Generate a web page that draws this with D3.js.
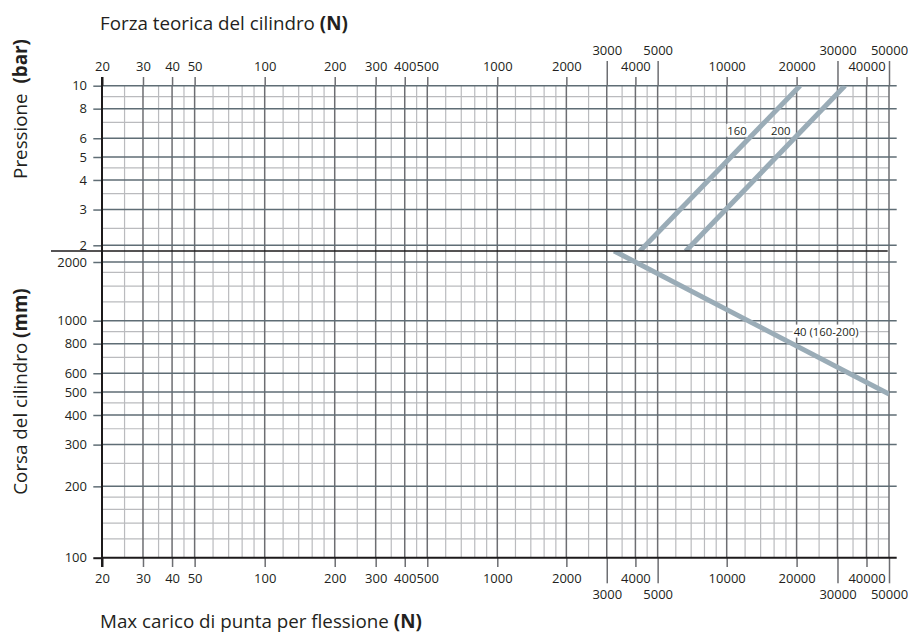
<!DOCTYPE html>
<html>
<head>
<meta charset="utf-8">
<script src="https://cdn.jsdelivr.net/npm/d3@7"></script>
<style>
  body { margin: 0; background: #fff; }
  text { font-family: "Open Sans", sans-serif; fill: #231f20; }
</style>
</head>
<body>
<div id="grafico"></div>
<script>
// asse x: forza (N), stessa scala sopra e sotto
const forza_maggiori = [20, 30, 40, 50, 100, 200, 300, 400, 500, 1000, 2000, 3000, 4000, 5000, 10000, 20000, 30000, 40000, 50000];
const forza_sfalsate = [3000, 5000, 30000, 50000];
const forza_minori = [25, 35, 45, 60, 70, 80, 90, 120, 140, 160, 180, 250, 350, 450, 600, 700, 800, 900,
  1200, 1400, 1600, 1800, 2500, 3500, 4500, 6000, 7000, 8000, 9000, 12000, 14000, 16000, 18000, 25000, 35000, 45000];

// pannello alto: pressione (bar)
const pressione_maggiori = [2, 3, 4, 5, 6, 8, 10];
const pressione_minori = [2.5, 3.5, 4.5, 7, 9];

// pannello basso: corsa (mm)
const corsa_maggiori = [100, 200, 300, 400, 500, 600, 800, 1000, 2000];
const corsa_minori = [120, 140, 160, 180, 250, 350, 450, 700, 900, 1200, 1400, 1600];

// curve: [forza N, pressione bar]
const alesaggio_160 = [[4180, 1.85], [20700, 10]];
const alesaggio_200 = [[6620, 1.85], [32300, 10]];
// [forza N, corsa mm]
const stelo_40 = [[3230, 2540], [50000, 490]];

const etichette_pressione = [["160", 11080, 6.46], ["200", 17100, 6.46]];
const etichette_corsa = [["40 (160-200)", 26800, 900]];

const larghezza = 908, altezza = 632;
const bordo = { sinistra: 102, destra: 889, alto: 85.7, separa: 251, basso: 557.7 };

const svg = d3.select("#grafico").append("svg")
  .attr("width", larghezza)
  .attr("height", altezza);

const x = d3.scaleLog()
  .domain([20, 100, 1000, 10000, 50000])
  .range([bordo.sinistra, 264.7, 497.3, 726.7, bordo.destra]);

const y_pressione = d3.scaleLog()
  .domain([2, 2.5, 10])
  .range([245.3, 228.3, bordo.alto]);

const y_corsa = d3.scaleLog()
  .domain([100, 1600, 2000])
  .range([bordo.basso, 272.3, 262]);

const grigio_chiaro = "#babbbe", grigio_v = "#6d6e72", grigio_h = "#5f6d75", nero = "#1c1a1b";

// griglia minore
const griglia = svg.append("g");
griglia.selectAll(".vmin").data(forza_minori).join("line")
  .attr("x1", d => x(d)).attr("x2", d => x(d))
  .attr("y1", bordo.alto).attr("y2", bordo.basso)
  .attr("stroke", grigio_chiaro).attr("stroke-width", 1.2);
griglia.selectAll(".hpmin").data(pressione_minori).join("line")
  .attr("x1", bordo.sinistra).attr("x2", bordo.destra)
  .attr("y1", d => y_pressione(d)).attr("y2", d => y_pressione(d))
  .attr("stroke", grigio_chiaro).attr("stroke-width", 1.2);
griglia.selectAll(".hcmin").data(corsa_minori).join("line")
  .attr("x1", bordo.sinistra).attr("x2", bordo.destra)
  .attr("y1", d => y_corsa(d)).attr("y2", d => y_corsa(d))
  .attr("stroke", grigio_chiaro).attr("stroke-width", 1.2);

// griglia maggiore
griglia.append("g").selectAll("line").data(forza_maggiori.slice(1)).join("line")
  .attr("x1", d => x(d)).attr("x2", d => x(d))
  .attr("y1", bordo.alto).attr("y2", bordo.basso)
  .attr("stroke", grigio_v).attr("stroke-width", 1.5);
griglia.append("g").selectAll("line").data(pressione_maggiori).join("line")
  .attr("x1", bordo.sinistra).attr("x2", 896.7)
  .attr("y1", d => y_pressione(d)).attr("y2", d => y_pressione(d))
  .attr("stroke", grigio_h).attr("stroke-width", 1.5);
griglia.append("g").selectAll("line").data(corsa_maggiori.filter(d => d > 100)).join("line")
  .attr("x1", bordo.sinistra).attr("x2", 896.7)
  .attr("y1", d => y_corsa(d)).attr("y2", d => y_corsa(d))
  .attr("stroke", grigio_h).attr("stroke-width", 1.5);

// assi
function stile(g, colore) {
  g.select(".domain").remove();
  g.selectAll(".tick line").attr("stroke", colore).attr("stroke-width", 1.5);
  g.selectAll(".tick text").style("font-size", "13px").attr("fill", "#231f20");
  g.selectAll(".tick").filter(d => d === 20 || d === 100 && g.classed("basso-y"))
    .select("line").attr("stroke", nero).attr("stroke-width", 2);
}
const formato = d3.format("d");
const normali = forza_maggiori.filter(d => !forza_sfalsate.includes(d));

svg.append("g").attr("transform", `translate(0,${bordo.alto})`)
  .call(d3.axisTop(x).tickValues(normali).tickFormat(formato).tickSize(8.7).tickPadding(6.4))
  .call(g => stile(g, grigio_v));
svg.append("g").attr("transform", `translate(0,${bordo.alto})`)
  .call(d3.axisTop(x).tickValues(forza_sfalsate).tickFormat(formato).tickSize(24.7).tickPadding(6.3))
  .call(g => stile(g, grigio_v));
svg.append("g").attr("transform", `translate(0,${bordo.basso})`)
  .call(d3.axisBottom(x).tickValues(normali).tickFormat(formato).tickSize(9.3).tickPadding(6.3))
  .call(g => stile(g, grigio_v));
svg.append("g").attr("transform", `translate(0,${bordo.basso})`)
  .call(d3.axisBottom(x).tickValues(forza_sfalsate).tickFormat(formato).tickSize(25.6).tickPadding(6.8))
  .call(g => stile(g, grigio_v));

svg.append("g").attr("transform", `translate(${bordo.sinistra},0)`)
  .call(d3.axisLeft(y_pressione).tickValues(pressione_maggiori).tickFormat(formato).tickSize(8.7).tickPadding(6.3))
  .call(g => stile(g, grigio_h));
svg.append("g").attr("class", "basso-y").attr("transform", `translate(${bordo.sinistra},0)`)
  .call(d3.axisLeft(y_corsa).tickValues(corsa_maggiori).tickFormat(formato).tickSize(8.7).tickPadding(6.3))
  .call(g => stile(g, grigio_h));

// linee nere di bordo
svg.append("line")
  .attr("x1", x(20)).attr("x2", x(20)).attr("y1", 77).attr("y2", 567)
  .attr("stroke", nero).attr("stroke-width", 2);
svg.append("line")
  .attr("x1", bordo.sinistra).attr("x2", 896.7).attr("y1", y_corsa(100)).attr("y2", y_corsa(100))
  .attr("stroke", nero).attr("stroke-width", 2);

// curve
const defs = svg.append("defs");
defs.append("clipPath").attr("id", "clip-alto").append("rect")
  .attr("x", bordo.sinistra).attr("y", bordo.alto)
  .attr("width", bordo.destra - bordo.sinistra).attr("height", bordo.separa - bordo.alto);
defs.append("clipPath").attr("id", "clip-basso").append("rect")
  .attr("x", bordo.sinistra).attr("y", bordo.separa)
  .attr("width", bordo.destra - bordo.sinistra).attr("height", bordo.basso - bordo.separa);

const linea_p = d3.line().x(d => x(d[0])).y(d => y_pressione(d[1]));
const linea_c = d3.line().x(d => x(d[0])).y(d => y_corsa(d[1]));
const blu = "#9aacb7";

svg.append("g").attr("clip-path", "url(#clip-alto)")
  .selectAll("path").data([alesaggio_160, alesaggio_200]).join("path")
  .attr("d", linea_p).attr("fill", "none").attr("stroke", blu).attr("stroke-width", 5);
svg.append("g").attr("clip-path", "url(#clip-basso)")
  .append("path").datum(stelo_40)
  .attr("d", linea_c).attr("fill", "none").attr("stroke", blu).attr("stroke-width", 5);

// separatore tra i due pannelli
svg.append("line")
  .attr("x1", 51).attr("x2", 887.7).attr("y1", bordo.separa).attr("y2", bordo.separa)
  .attr("stroke", nero).attr("stroke-width", 1.6);

// etichette delle curve
function etichetta(dati, y) {
  const g = svg.append("g").selectAll("g").data(dati).join("g")
    .attr("transform", d => `translate(${x(d[1])},${y(d[2])})`);
  g.append("text").text(d => d[0])
    .attr("text-anchor", "middle").attr("dy", "0.36em")
    .style("font-size", "11.3px");
  g.insert("rect", "text").each(function () {
    const b = this.nextSibling.getBBox();
    d3.select(this).attr("x", b.x - 1).attr("y", b.y + 1)
      .attr("width", b.width + 2).attr("height", b.height - 2).attr("fill", "#fff");
  });
}
etichetta(etichette_pressione, y_pressione);
etichetta(etichette_corsa, y_corsa);

// titoli
const titolo = "18.8px";
svg.append("text").attr("x", 100).attr("y", 30).style("font-size", titolo)
  .call(t => t.append("tspan").text("Forza teorica del cilindro "))
  .call(t => t.append("tspan").style("font-weight", "bold").text("(N)"));
svg.append("text").attr("x", 100).attr("y", 627.5).style("font-size", titolo)
  .call(t => t.append("tspan").text("Max carico di punta per flessione "))
  .call(t => t.append("tspan").style("font-weight", "bold").text("(N)"));
svg.append("text").attr("transform", "translate(27,109) rotate(-90)")
  .attr("text-anchor", "middle").style("font-size", titolo)
  .call(t => t.append("tspan").text("Pressione\u00a0\u00a0"))
  .call(t => t.append("tspan").style("font-weight", "bold").text("(bar)"));
svg.append("text").attr("transform", "translate(27,391.5) rotate(-90)")
  .attr("text-anchor", "middle").style("font-size", titolo)
  .call(t => t.append("tspan").text("Corsa del cilindro "))
  .call(t => t.append("tspan").style("font-weight", "bold").text("(mm)"));
</script>
</body>
</html>
